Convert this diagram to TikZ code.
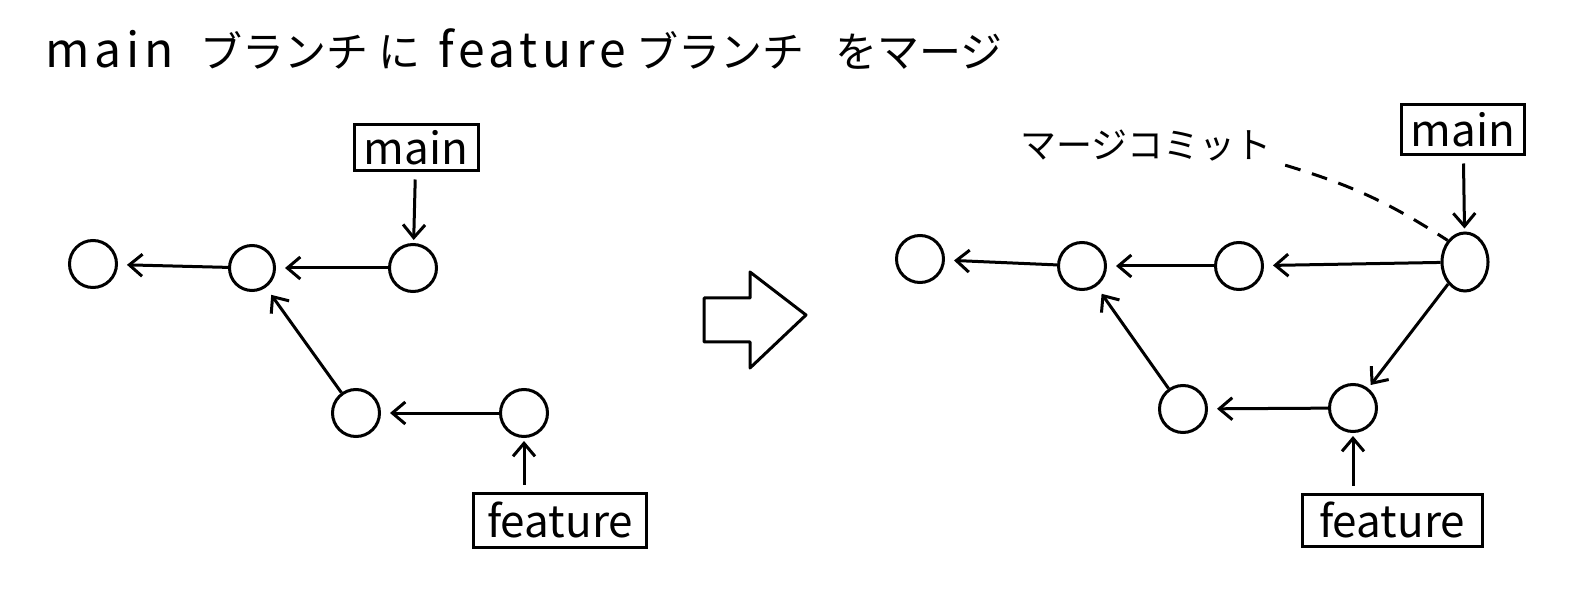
\documentclass[tikz,border=0pt]{standalone}
\usepackage{fontspec}
\setmainfont{Noto Sans CJK JP}
\usetikzlibrary{arrows.meta,shapes.geometric}
\begin{document}
\begin{tikzpicture}[x=1pt,y=-1pt,
  commit/.style={draw,circle,line width=3pt,minimum size=47pt,inner sep=0pt},
  mergec/.style={draw,ellipse,line width=3pt,minimum width=46pt,minimum height=58pt,inner sep=0pt},
  refbox/.style={draw,line width=3pt,inner sep=0pt,font=\fontsize{44}{44}\selectfont},
  link/.style={-{Straight Barb[length=13pt,width=22pt,line width=3pt]},line width=3pt,shorten >=9pt},
  ptr/.style={-{Straight Barb[length=13pt,width=22pt,line width=3pt]},line width=3pt,shorten >=3pt,shorten <=7pt},
  note/.style={font=\fontsize{36}{36}\selectfont},
  ttl/.style={anchor=base west,inner sep=0pt,font=\fontsize{42}{42}\selectfont},
  ttllat/.style={anchor=base west,inner sep=0pt,font=\fontsize{48}{48}\selectfont\addfontfeature{LetterSpace=10}},
  dashline/.style={line width=3pt,dash pattern=on 16pt off 12pt}
]
\useasboundingbox[fill=white] (0,0) rectangle (1590,609);

% title
\node[ttllat] (t1) at (45,68) {main};
\node[ttl] (t2) at (200,68) {ブランチ};
\node[ttl] (t3) at (378,68) {に};
\node[ttllat] (t4) at (438,68) {feature};
\node[ttl] (t5) at (636,68) {ブランチ};
\node[ttl] (t6) at (835,68) {をマージ};

% ---------- left: before ----------
\node[refbox,minimum width=124pt,minimum height=46pt] (mainL) at (416,148) {main};
\node[commit] (c1) at (93,264) {};
\node[commit,minimum size=45pt] (c2) at (252,268) {};
\node[commit] (c3) at (413,268) {};
\node[commit] (c4) at (356,413) {};
\node[commit] (c5) at (524,413) {};
\node[refbox,minimum width=173pt,minimum height=54pt] (featL) at (560,520) {feature};

\draw[link] (c3) -- (c2);
\draw[link] (c2) -- (c1);
\draw[link] (c5) -- (c4);
\draw[link] (c4) -- (c2);
\draw[ptr] (mainL) -- (c3);
\draw[ptr] (c5 |- featL.north) -- (c5);

% ---------- big arrow ----------
\draw[line width=3pt,line join=round] (704,298) -- (750,298) -- (750,272) -- (806,315) -- (750,368) -- (750,342) -- (704,342) -- cycle;

% ---------- right: after ----------
\node[note,anchor=center] (mtext) at (1146,146) {マージコミット};
\node[refbox,minimum width=123pt,minimum height=50pt] (mainR) at (1463,130) {main};
\node[mergec] (m) at (1465,262) {};
\node[commit] (r1) at (920,259) {};
\node[commit] (r2) at (1082,266) {};
\node[commit] (r3) at (1239,266) {};
\node[commit] (r4) at (1183,409) {};
\node[commit] (r5) at (1353,408) {};
\node[refbox,minimum width=180pt,minimum height=52pt] (featR) at (1392,520) {feature};

\draw[link] (m) -- (r3);
\draw[link] (r3) -- (r2);
\draw[link] (r2) -- (r1);
\draw[link,shorten >=4pt] (m) -- (r5);
\draw[link] (r5) -- (r4);
\draw[link] (r4) -- (r2);
\draw[ptr] (mainR) -- (m);
\draw[ptr] (r5 |- featR.north) -- (r5);
\draw[dashline] ([xshift=10pt]mtext.south east) to[bend left=8] (m.north west);
\end{tikzpicture}
\end{document}
